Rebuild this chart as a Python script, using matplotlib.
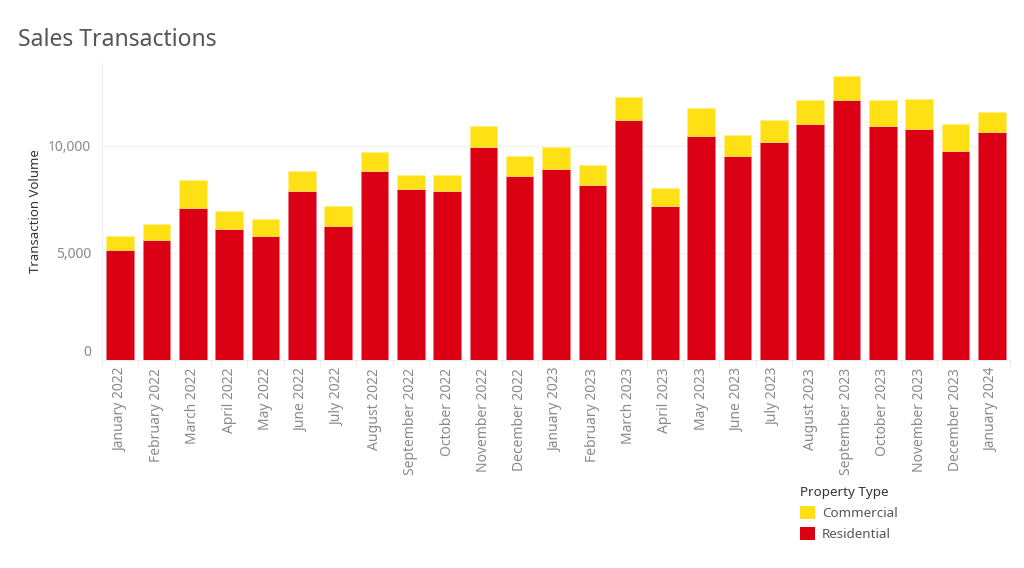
import matplotlib
matplotlib.use("Agg")
import matplotlib.pyplot as plt
from matplotlib.patches import Patch
import numpy as np

months = ["January 2022", "February 2022", "March 2022", "April 2022", "May 2022",
          "June 2022", "July 2022", "August 2022", "September 2022", "October 2022",
          "November 2022", "December 2022", "January 2023", "February 2023", "March 2023",
          "April 2023", "May 2023", "June 2023", "July 2023", "August 2023",
          "September 2023", "October 2023", "November 2023", "December 2023", "January 2024"]
residential = [5130, 5585, 7115, 6100, 5790, 7910, 6270, 8815, 7990, 7910,
               9940, 8610, 8940, 8160, 11230, 7175, 10450, 9515, 10200, 11015,
               12170, 10935, 10780, 9780, 10640]
commercial = [640, 750, 1280, 875, 795, 905, 905, 890, 670, 720,
              1000, 905, 1000, 935, 1075, 860, 1310, 1015, 1030, 1120,
              1090, 1200, 1405, 1235, 950]
y_ticks = [0, 5000, 10000]
y_tick_labels = ["0", "5,000", "10,000"]

RED = "#DC0014"
YELLOW = "#FFE015"

plt.rcParams['font.family'] = ['Noto Sans', 'DejaVu Sans']

fig = plt.figure(figsize=(10.24, 5.68), dpi=100)
ax = fig.add_axes([102/1024, 1-359.5/568, 908/1024, (359.5-63)/568])

x = np.arange(len(months))
w = 0.76
ax.bar(x, residential, width=w, color=RED, edgecolor="#F07080", linewidth=0.4, zorder=3)
ax.bar(x, commercial, width=w, bottom=residential, color=YELLOW, edgecolor="#FFF080",
       linewidth=0.4, zorder=3)

ax.set_xlim(-0.5, len(months)-0.5)
ax.set_ylim(0, 13880)
ax.set_yticks(y_ticks)
ax.set_yticklabels(y_tick_labels)
ax.set_xticks(x)
ax.set_xticklabels(months, rotation=90)
ax.set_xticks(np.arange(-0.5, len(months), 1), minor=True)

ax.tick_params(axis='x', which='major', length=0, pad=6, labelsize=10, labelcolor="#8A8A8A")
ax.tick_params(axis='x', which='minor', length=6, color="#EEEEEE", width=0.8)
ax.tick_params(axis='y', length=0, pad=8, labelsize=10, labelcolor="#8A8A8A")
# Tableau places the zero label just above the baseline
ax.get_yticklabels()[0].set_verticalalignment('bottom')

ax.grid(axis='y', color="#F2F2F2", linewidth=0.8, zorder=0)
for s in ['top', 'right']:
    ax.spines[s].set_visible(False)
ax.spines['left'].set_color("#F0F0F0")
ax.spines['bottom'].set_color("#EEEEEE")
ax.spines['left'].set_linewidth(0.8)
ax.spines['bottom'].set_linewidth(0.8)

ax.set_ylabel("Transaction Volume", fontsize=9.5, color="#333333", labelpad=4)

fig.text(18/1024, 1-40/568, "Sales Transactions", fontsize=16.5, color="#555555",
         va='center', ha='left')

handles = [Patch(facecolor=YELLOW, edgecolor='none', label="Commercial"),
           Patch(facecolor=RED, edgecolor='none', label="Residential")]
leg = fig.legend(handles=handles, title="Property Type", loc='upper left',
                 bbox_to_anchor=(788/1024, 1-474/568), frameon=False,
                 fontsize=9.7, title_fontsize=9.7, handlelength=1.1, handleheight=1.1,
                 handletextpad=0.5, labelspacing=0.5, alignment='left')
leg.get_title().set_color("#333333")
leg.get_title().set_fontweight('semibold')
for t in leg.get_texts():
    t.set_color("#555555")

fig.savefig("out.png", dpi=100, facecolor="white")
